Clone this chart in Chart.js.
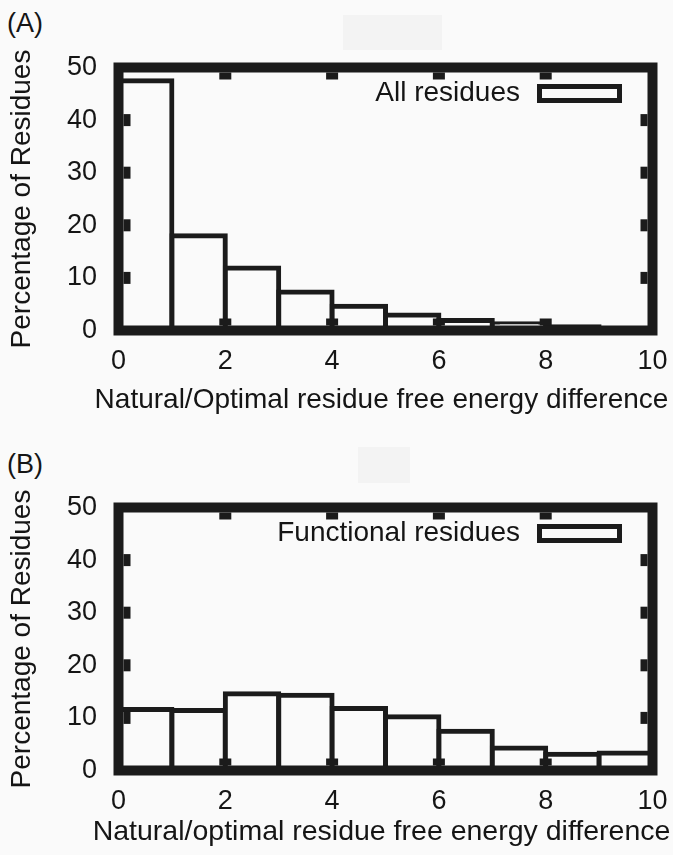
<!DOCTYPE html>
<html>
<head>
<meta charset="utf-8">
<script src="https://cdn.jsdelivr.net/npm/chart.js@4.4.0/dist/chart.umd.min.js"></script>
<style>
body{margin:0;background:#fafafa;}
#wrap{position:relative;width:673px;height:855px;overflow:hidden;font-family:"Liberation Sans",Arial,sans-serif;color:#151515;}
.panel{position:absolute;left:0;}
.tag{position:absolute;left:7px;font-size:27px;line-height:27px;}
.smudge{position:absolute;background:#f3f3f3;}
</style>
</head>
<body>
<div id="wrap">
  <div class="smudge" style="left:343px;top:15px;width:99px;height:35px"></div>
  <div class="smudge" style="left:358px;top:447px;width:52px;height:36px"></div>
  <div class="tag" style="top:10px">(A)</div>
  <div class="tag" style="top:451px">(B)</div>
  <canvas class="panel" id="chartA" width="673" height="440" style="top:0"></canvas>
  <canvas class="panel" id="chartB" width="673" height="415" style="top:440px"></canvas>
</div>
<script>
// histogram bins, 1 unit wide
var binCentres = [0.5, 1.5, 2.5, 3.5, 4.5, 5.5, 6.5, 7.5, 8.5, 9.5];
var allResidues = [47.5, 18.0, 11.9, 7.3, 4.6, 2.95, 1.9, 1.3, 0.7, 0.3];
var functionalResidues = [11.6, 11.4, 14.6, 14.3, 11.8, 10.2, 7.45, 4.3, 3.1, 3.35];
var xTicks = [0, 2, 4, 6, 8, 10];
var yTicks = [0, 10, 20, 30, 40, 50];

var ink = '#1b1b1b';
var textInk = '#151515';
var fontFamily = '"Liberation Sans", Arial, sans-serif';
Chart.defaults.font.family = fontFamily;
Chart.defaults.font.size = 27;
Chart.defaults.color = textInk;

// thick gnuplot style border with inward ticks on all four sides
var framePlugin = {
  id: 'frame',
  afterDatasetsDraw: function(chart) {
    var a = chart.chartArea, c = chart.ctx;
    var xs = chart.scales.x, ys = chart.scales.y;
    c.save();
    c.strokeStyle = ink;
    c.lineWidth = 10;
    c.strokeRect(a.left, a.top, a.right - a.left, a.bottom - a.top);
    c.fillStyle = ink;
    xTicks.forEach(function(v) {
      if (v == xs.min || v == xs.max) return;
      var px = xs.getPixelForValue(v);
      c.fillRect(px - 6, a.top + 5, 12, 7);
      c.fillRect(px - 6, a.bottom - 12, 12, 7);
    });
    yTicks.forEach(function(v) {
      if (v == ys.min || v == ys.max) return;
      var py = ys.getPixelForValue(v);
      c.fillRect(a.left + 5, py - 6, 7, 12);
      c.fillRect(a.right - 12, py - 6, 7, 12);
    });
    c.restore();
  }
};

// key in the top right corner (text then sample box) and the x axis title,
// which is wider than the plot so Chart.js would squeeze it
var keyPlugin = {
  id: 'key',
  afterDraw: function(chart, args, opts) {
    var a = chart.chartArea, c = chart.ctx;
    var ds = chart.data.datasets[0];
    var cy = a.top + 26;
    var bx = a.right - 113;
    c.save();
    c.lineWidth = ds.borderWidth;
    c.strokeStyle = ds.borderColor;
    c.fillStyle = ds.backgroundColor;
    c.fillRect(bx, cy - 7, 80, 14);
    c.strokeRect(bx, cy - 7, 80, 14);
    c.font = '28px ' + fontFamily;
    c.fillStyle = textInk;
    c.textAlign = 'right';
    c.textBaseline = 'middle';
    c.fillText(ds.label, bx - 19.5, cy);

    c.font = opts.size + 'px ' + fontFamily;
    c.textAlign = 'center';
    c.fillText(opts.text, (a.left + a.right) / 2 - 4, a.bottom + opts.offset);
    c.restore();
  }
};

function makePanel(id, label, values, xTitle, titleSize, titleOffset) {
  var ctx = document.getElementById(id).getContext('2d');
  return new Chart(ctx, {
    type: 'bar',
    data: {
      datasets: [{
        label: label,
        data: binCentres.map(function(x, i) { return {x: x, y: values[i]}; }),
        backgroundColor: '#fafafa',
        borderColor: ink,
        borderWidth: 5,
        borderSkipped: false,
        inflateAmount: 2.5,
        barPercentage: 1,
        categoryPercentage: 1
      }]
    },
    options: {
      responsive: false,
      animation: false,
      layout: {padding: {top: 67.5, right: 20.5, bottom: 0, left: 0}},
      plugins: {
        legend: {display: false},
        tooltip: {enabled: false},
        key: {text: xTitle, size: titleSize, offset: titleOffset}
      },
      scales: {
        x: {
          type: 'linear', min: 0, max: 10, offset: false,
          grid: {display: false, drawTicks: true, tickLength: 15.3},
          border: {display: false},
          afterBuildTicks: function(s) { s.ticks = xTicks.map(function(v) { return {value: v}; }); },
          afterFit: function(s) { s.height = s.chart.height - 330.5; },
          ticks: {padding: 0, maxRotation: 0, autoSkip: false}
        },
        y: {
          min: 0, max: 50,
          grid: {display: false, drawTicks: false},
          border: {display: false},
          afterBuildTicks: function(s) { s.ticks = yTicks.map(function(v) { return {value: v}; }); },
          afterFit: function(s) { s.width = 118.5; },
          ticks: {padding: 21.5},
          title: {display: true, text: 'Percentage of Residues', font: {size: 28}, padding: {top: 5.2, bottom: 0}}
        }
      }
    },
    plugins: [framePlugin, keyPlugin]
  });
}

makePanel('chartA', 'All residues', allResidues, 'Natural/Optimal residue free energy difference', 28, 70);
makePanel('chartB', 'Functional residues', functionalResidues, 'Natural/optimal residue free energy difference', 28.5, 62);
</script>
</body>
</html>
